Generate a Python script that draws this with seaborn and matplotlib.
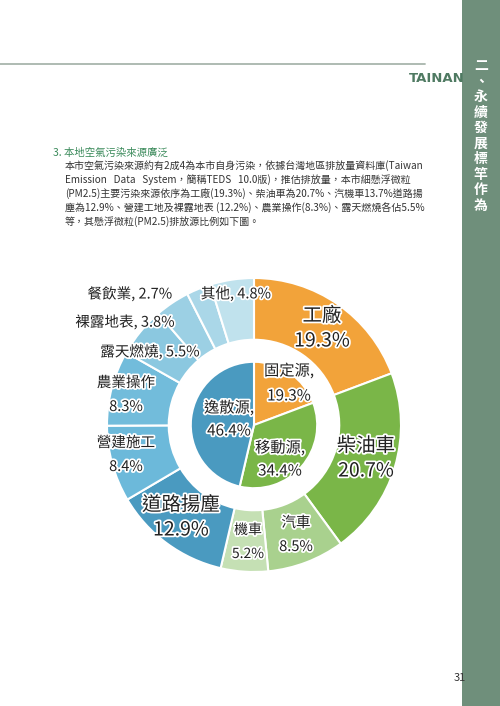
import matplotlib
matplotlib.use("Agg")
import matplotlib.pyplot as plt
import matplotlib.patheffects as pe
import seaborn as sns

sns.set_theme(style="white")
plt.rcParams['font.family'] = ['Noto Sans CJK TC', 'DejaVu Sans']

outer_labels = ["工廠", "柴油車", "汽車", "機車", "道路揚塵", "營建施工", "農業操作",
                "露天燃燒", "裸露地表", "餐飲業", "其他"]
outer_values = [19.3, 20.7, 8.5, 5.2, 12.9, 8.4, 8.3, 5.5, 3.8, 2.7, 4.8]
outer_colors = ["#F2A33A", "#7AB648", "#A9D18E", "#C5E0B4", "#4A9AC0", "#6CB9DA",
                "#72BCDB", "#8BC8E0", "#9CD0E4", "#AAD7E8", "#C0E2ED"]
inner_labels = ["固定源", "移動源", "逸散源"]
inner_values = [19.3, 34.4, 46.4]
inner_colors = ["#F2A33A", "#7AB648", "#4A9AC0"]

W, H = 500, 706
fig = plt.figure(figsize=(5, 7.06), dpi=100)
fig.patch.set_facecolor("white")

def fx(px): return px / W
def fy(py): return 1 - py / H

side = fig.add_axes([fx(462), 0, fx(38), 1])
side.set_facecolor("#6F8F7B"); side.set_xticks([]); side.set_yticks([])
for s in side.spines.values(): s.set_visible(False)
vt = "二、永續發展標竿作為"
for i, ch in enumerate(vt):
    fig.text(fx(481), fy(66 + i * 15.5), ch, color="white", fontsize=10, fontweight="bold",
             ha="center", va="center")
fig.add_artist(plt.Line2D([0, fx(425)], [fy(64), fy(64)], color="#A8B5AC", lw=1.3))
fig.text(fx(437), fy(79), "TAINAN", color="#4F7A62", fontsize=9.5, fontweight="bold",
         ha="center", va="center", family="DejaVu Sans")

fig.text(fx(53), fy(153), "3. 本地空氣污染來源廣泛", color="#3A8A5A", fontsize=7.5,
         ha="left", va="center")
body = ["本市空氣污染來源約有2成4為本市自身污染，依據台灣地區排放量資料庫(Taiwan",
        "Emission   Data   System，簡稱TEDS   10.0版)，推估排放量，本市細懸浮微粒",
        "(PM2.5)主要污染來源依序為工廠(19.3%)、柴油車為20.7%、汽機車13.7%道路揚",
        "塵為12.9%、營建工地及裸露地表 (12.2%)、農業操作(8.3%)、露天燃燒各佔5.5%",
        "等，其懸浮微粒(PM2.5)排放源比例如下圖。"]
for i, line in enumerate(body):
    fig.text(fx(65), fy(166 + i * 14), line, color="#333333", fontsize=7.2,
             ha="left", va="center")
fig.text(fx(460), fy(678), "31", color="#333333", fontsize=8, ha="center", va="center")

cx, cy, R = 254, 425, 147
ax = fig.add_axes([fx(cx - R), fy(cy + R), fx(2 * R), 2 * R / H])
ax.pie(outer_values, colors=outer_colors, startangle=90, counterclock=False, radius=1.0,
       wedgeprops=dict(width=0.42, edgecolor="white", linewidth=1.5))
ax.pie(inner_values, colors=inner_colors, startangle=90, counterclock=False, radius=0.43,
       wedgeprops=dict(edgecolor="white", linewidth=1.5))
ax.set_aspect("equal"); ax.set_xlim(-1, 1); ax.set_ylim(-1, 1)

stroke = [pe.withStroke(linewidth=2.5, foreground="white")]
def lab(px, py, s, size, ha="center"):
    fig.text(fx(px), fy(py), s, fontsize=size, ha=ha, va="center", color="#222222",
             path_effects=stroke, fontweight="medium")

lab(130, 294, "餐飲業, 2.7%", 10.5)
lab(125, 322, "裸露地表, 3.8%", 10.5)
lab(150, 352, "露天燃燒, 5.5%", 10.5)
lab(126, 383, "農業操作", 10.5); lab(126, 407, "8.3%", 10.5)
lab(126, 443, "營建施工", 10.5); lab(126, 467, "8.4%", 10.5)
lab(181, 505, "道路揚塵", 14); lab(181, 530, "12.9%", 14)
lab(248, 530, "機車", 10); lab(248, 554, "5.2%", 10)
lab(296, 523, "汽車", 10.5); lab(296, 547, "8.5%", 10.5)
lab(366, 446, "柴油車", 14); lab(366, 471, "20.7%", 14)
lab(322, 316, "工廠", 14); lab(322, 341, "19.3%", 14)
lab(236, 294, "其他, 4.8%", 10.5)
lab(289, 371, "固定源,", 11); lab(289, 396, "19.3%", 11)
lab(280, 448, "移動源,", 11); lab(280, 471, "34.4%", 11)
lab(229, 408, "逸散源,", 11); lab(229, 431, "46.4%", 11)

fig.savefig("out.png", dpi=100)
